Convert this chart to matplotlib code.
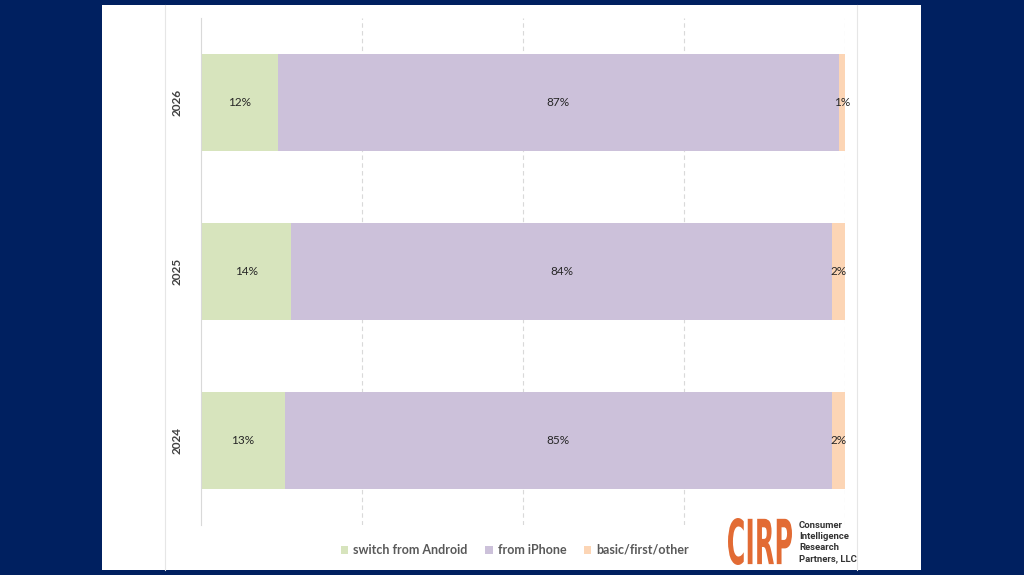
import matplotlib.pyplot as plt
from matplotlib.patches import Patch, Rectangle, PathPatch
from matplotlib.lines import Line2D
from matplotlib.textpath import TextPath
from matplotlib.font_manager import FontProperties
from matplotlib.transforms import Affine2D

# data
years = ['2024', '2025', '2026']
android = [13, 14, 12]
iphone = [85, 84, 87]
other = [2, 2, 1]
series_names = ['switch from Android', 'from iPhone', 'basic/first/other']
colors = ['#d7e4bd', '#ccc1da', '#fcd5b5']

plt.rcParams['font.family'] = ['Lato', 'DejaVu Sans']

W, H = 1024, 575
fig = plt.figure(figsize=(W / 100, H / 100), dpi=100, facecolor='#002060')

# white slide panel
fig.add_artist(Rectangle((102 / W, 5 / H), (921 - 102) / W, (570 - 5) / H,
                         transform=fig.transFigure, facecolor='white', edgecolor='none', zorder=0))
for xp in [165, 857]:
    fig.add_artist(Line2D([xp / W, xp / W], [5 / H, 570 / H], transform=fig.transFigure,
                          color='#e6e6e6', lw=0.8, zorder=1))

ax = fig.add_axes([201 / W, 50 / H, 644 / W, 507 / H])
ax.set_facecolor('none')

ypos = range(len(years))
h = 0.574
b1 = ax.barh(ypos, android, height=h, color=colors[0], label=series_names[0], zorder=2)
left2 = android
b2 = ax.barh(ypos, iphone, height=h, left=left2, color=colors[1], label=series_names[1], zorder=2)
left3 = [a + b for a, b in zip(android, iphone)]
b3 = ax.barh(ypos, other, height=h, left=left3, color=colors[2], label=series_names[2], zorder=2)

for bars, vals in [(b1, android), (b2, iphone), (b3, other)]:
    ax.bar_label(bars, labels=[f'{v}%' for v in vals], label_type='center',
                 fontsize=8.5, color='#262626')

ax.set_xlim(0, 100)
ax.set_ylim(-0.5, 2.5)
ax.set_xticks([25, 50, 75, 100])
ax.set_xticklabels([])
ax.tick_params(axis='x', length=0)
ax.grid(axis='x', linestyle=(0, (4, 3)), color='#d9d9d9', lw=0.8, zorder=0)
ax.set_yticks(list(ypos))
ax.set_yticklabels(years, rotation=90, va='center', fontsize=8.5, color='#404040',
                   fontweight='bold')
ax.tick_params(axis='y', length=0, pad=13)
for s in ['top', 'right', 'bottom']:
    ax.spines[s].set_visible(False)
ax.spines['left'].set_color('#d9d9d9')
ax.spines['left'].set_linewidth(0.8)

handles = [Patch(facecolor=c, edgecolor='none') for c in colors]
fig.legend(handles, series_names, loc='center', bbox_to_anchor=(515 / W, 25 / H),
           ncol=3, frameon=False, fontsize=9, labelcolor='#595959',
           prop={'weight': 'bold', 'size': 9},
           handlelength=0.6, handleheight=0.6, handletextpad=0.4, columnspacing=1.4)

# CIRP logo
tp = TextPath((0, 0), 'CIRP', size=50, prop=FontProperties(family='DejaVu Sans', weight='bold'))
bb = tp.get_extents()
x0, x1, y0, y1 = 728, 792, 575 - 565, 575 - 518
tr = (Affine2D().translate(-bb.x0, -bb.y0)
      .scale((x1 - x0) / bb.width / W, (y1 - y0) / bb.height / H)
      .translate(x0 / W, y0 / H))
fig.add_artist(PathPatch(tr.transform_path(tp), transform=fig.transFigure,
                         facecolor='#e26b34', edgecolor='none', zorder=3))
fig.text(799 / W, (575 - 542) / H, 'Consumer\nIntelligence\nResearch\nPartners, LLC',
         fontsize=6.8, fontweight='bold', color='#333333', va='center', ha='left',
         linespacing=1.3, family=['Liberation Sans Narrow', 'Roboto', 'DejaVu Sans'])

fig.savefig('out.png', dpi=100, facecolor=fig.get_facecolor())
